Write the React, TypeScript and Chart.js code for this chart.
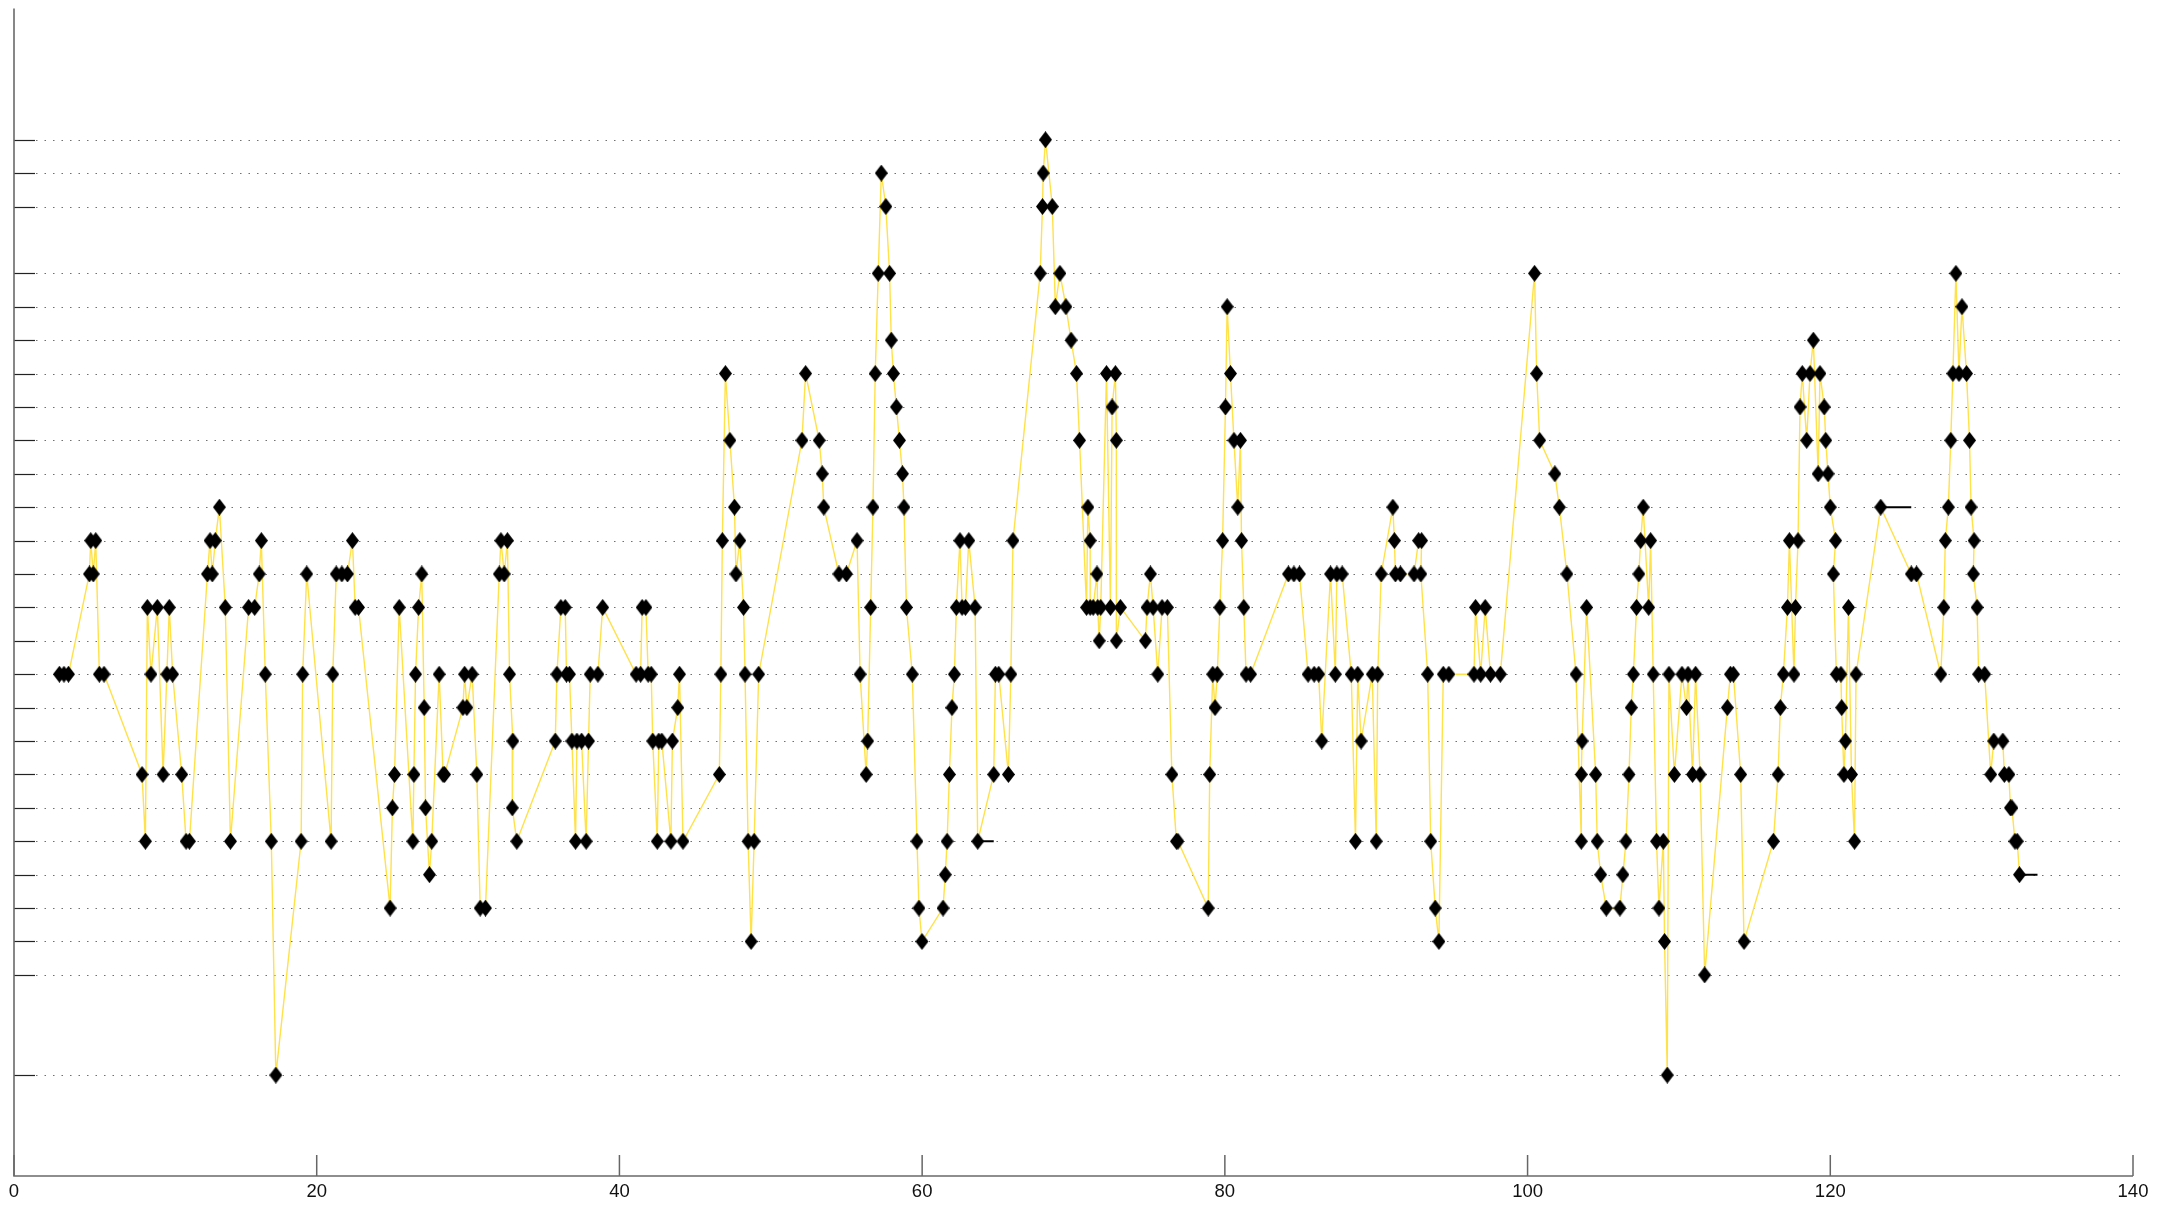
import React, { useEffect, useRef } from "react";
import { Chart, registerables } from "chart.js";

Chart.register(...registerables);

// note onsets (x) and pitch levels (y), in drawing order
const positions = [
  3.0, 3.3, 3.6, 4.98, 5.07, 5.24, 5.4, 5.64, 5.95, 8.46, 8.68, 8.81, 9.05, 9.47, 9.85, 10.1, 10.26, 10.48,
  11.08, 11.37, 11.59, 12.78, 12.95, 13.1, 13.3, 13.57, 13.96, 14.3, 15.5, 15.9, 16.2, 16.34, 16.6, 17.0,
  17.3, 18.97, 19.07, 19.34,
  20.95, 21.06, 21.29, 21.66, 22.03, 22.36, 22.54, 22.76, 24.85, 25.0, 25.14, 25.45, 26.35, 26.42, 26.53,
  26.73, 26.94, 27.1, 27.19, 27.45, 27.6, 28.09, 28.35, 28.45, 29.66, 29.77, 29.92, 30.27, 30.58, 30.8,
  31.15, 32.06, 32.17, 32.39, 32.6, 32.74, 32.96, 32.92, 33.22, 35.76, 35.87, 36.13, 36.42, 36.5, 36.7,
  36.86, 37.1, 37.19, 37.5, 37.8, 37.96, 38.07, 38.58, 38.89,
  41.1, 41.4, 41.5, 41.75, 41.9, 42.1, 42.2, 42.5, 42.6, 42.8, 43.4, 43.5, 43.85, 43.97, 44.2, 46.6, 46.7,
  46.8, 47.0, 47.3, 47.6, 47.7, 47.95, 48.2, 48.3, 48.5, 48.7, 48.9, 49.2, 52.06, 52.3, 53.2, 53.4, 53.5,
  54.5, 55.0, 55.7, 55.9,
  56.3, 56.4, 56.6, 56.75, 56.9, 57.1, 57.3, 57.6, 57.85, 57.96, 58.1, 58.3, 58.5, 58.7, 58.8, 58.96,
  59.35, 59.66, 59.79, 59.99, 61.38, 61.53, 61.65, 61.8, 61.97, 62.13, 62.26, 62.5, 62.64, 62.86, 63.08,
  63.5, 63.67, 64.73, 64.84, 65.06, 65.7, 65.86, 66.0, 67.8, 67.95, 68.0, 68.15, 68.6, 68.8, 69.1, 69.5,
  69.84, 70.2, 70.4, 70.86, 70.95, 71.1, 71.1, 71.3, 71.55, 71.6, 71.7, 71.8,
  72.18, 72.44, 72.55, 72.77, 72.83, 72.83, 73.1, 74.75, 74.86, 75.08, 75.26, 75.57, 75.85, 76.2, 76.5,
  76.8, 76.9, 78.9, 79.0, 79.2, 79.35, 79.5, 79.67, 79.85, 80.04, 80.15, 80.37, 80.6, 80.85, 81.03, 81.1,
  81.25, 81.4, 81.7, 84.2, 84.56, 84.93, 85.5, 85.9, 86.2, 86.4, 86.98, 87.3, 87.4, 87.75, 88.35, 88.63,
  88.78, 89.0, 89.74, 90.0, 90.1, 90.33, 91.1, 91.2, 91.27, 91.6, 92.5, 92.8, 93.0, 92.95, 93.4, 93.6,
  93.9, 94.14, 94.43, 94.8, 96.46, 96.56, 96.9, 97.2, 97.55, 98.2, 100.46, 100.6, 100.8, 101.8, 102.1,
  102.6, 103.2, 103.55, 103.55, 103.6, 103.9,
  104.5, 104.6, 104.83, 105.2, 106.1, 106.3, 106.5, 106.7, 106.85, 106.99, 107.2, 107.35, 107.47, 107.64,
  108.0, 108.13, 108.3, 108.52, 108.68, 108.97, 109.05, 109.23, 109.34, 109.7, 110.2, 110.5, 110.6, 110.9,
  111.1, 111.4, 111.7, 113.2, 113.4, 113.6, 114.08, 114.3, 116.24, 116.55, 116.7, 116.9, 117.17, 117.3,
  117.6, 117.7, 117.87, 118.0, 118.15, 118.44, 118.66, 118.88, 119.2, 119.32, 119.6, 119.7, 119.85, 120.0,
  120.35, 120.2, 120.4, 120.7, 120.75, 120.9, 121.0, 121.2, 121.4, 121.6, 121.7, 123.33, 125.35, 125.7,
  127.3, 127.5, 127.6, 127.8, 127.96, 128.1, 128.3, 128.5, 128.7, 129.0, 129.2, 129.3, 129.5, 129.45,
  129.7, 129.8, 130.2, 130.6, 130.8, 131.4, 131.5, 131.8, 131.9, 132.0, 132.2, 132.35, 132.5,
];

const levels = [
  12, 12, 12, 15, 16, 15, 16, 12, 12, 9, 7, 14, 12, 14, 9, 12, 14, 12,
  9, 7, 7, 15, 16, 15, 16, 17, 14, 7, 14, 14, 15, 16, 12, 7,
  0, 7, 12, 15,
  7, 12, 15, 15, 15, 16, 14, 14, 5, 8, 9, 14, 7, 9, 12,
  14, 15, 11, 8, 6, 7, 12, 9, 9, 11, 12, 11, 12, 9, 5,
  5, 15, 16, 15, 16, 12, 10, 8, 7, 10, 12, 14, 14, 12, 12,
  10, 7, 10, 10, 7, 10, 12, 12, 14,
  12, 12, 14, 14, 12, 12, 10, 7, 10, 10, 7, 10, 11, 12, 7, 9, 12,
  16, 21, 19, 17, 15, 16, 14, 12, 7, 4, 7, 12, 19, 21, 19, 18, 17,
  15, 15, 16, 12,
  9, 10, 14, 17, 21, 24, 27, 26, 24, 22, 21, 20, 19, 18, 17, 14,
  12, 7, 5, 4, 5, 6, 7, 9, 11, 12, 14, 16, 14, 14, 16,
  14, 7, 9, 12, 12, 9, 12, 16, 24, 26, 27, 28, 26, 23, 24, 23,
  22, 21, 19, 14, 17, 16, 14, 14, 15, 14, 13, 14,
  21, 14, 20, 21, 19, 13, 14, 13, 14, 15, 14, 12, 14, 14, 9,
  7, 7, 5, 9, 12, 11, 12, 14, 16, 20, 23, 21, 19, 17, 19, 16,
  14, 12, 12, 15, 15, 15, 12, 12, 12, 10, 15, 12, 15, 15, 12, 7,
  12, 10, 12, 7, 12, 15, 17, 16, 15, 15, 15, 16, 16, 15, 12, 7,
  5, 4, 12, 12, 12, 14, 12, 14, 12, 12, 24, 21, 19, 18, 17,
  15, 12, 7, 9, 10, 14,
  9, 7, 6, 5, 5, 6, 7, 9, 11, 12, 14, 15, 16, 17,
  14, 16, 12, 7, 5, 7, 4, 0, 12, 9, 12, 11, 12, 9,
  12, 9, 3, 11, 12, 12, 9, 4, 7, 9, 11, 12, 14, 16,
  12, 14, 16, 20, 21, 19, 21, 22, 18, 21, 20, 19, 18, 17,
  16, 15, 12, 12, 11, 9, 10, 14, 9, 7, 12, 17, 15, 15,
  12, 14, 16, 17, 19, 21, 24, 21, 23, 21, 19, 17, 16, 15,
  14, 12, 12, 9, 10, 10, 9, 9, 8, 8, 7, 7, 6,
];

// sustained notes drawn as short black bars
const holdStarts = [63.67, 123.33, 132.5];
const holdEnds = [64.73, 125.35, 133.69];
const holdLevels = [7, 17, 6];

// levels that carry a dotted guide line and a tick
const gridLevels = [0, 3, 4, 5, 6, 7, 8, 9, 10, 11, 12, 13, 14, 15, 16, 17, 18, 19, 20, 21, 22, 23, 24, 26, 27, 28];
const xTickValues = [0, 20, 40, 60, 80, 100, 120, 140];

function makeDiamond(w: number, h: number): HTMLCanvasElement {
  const c = document.createElement("canvas");
  c.width = w;
  c.height = h;
  const g = c.getContext("2d")!;
  g.fillStyle = "#000";
  g.beginPath();
  g.moveTo(w / 2, 0);
  g.lineTo(w, h / 2);
  g.lineTo(w / 2, h);
  g.lineTo(0, h / 2);
  g.closePath();
  g.fill();
  return c;
}

const axesPlugin = {
  id: "customAxes",
  beforeDatasetsDraw(chart: any) {
    const { ctx, chartArea, scales } = chart;
    const xs = scales.x;
    const ys = scales.y;
    const left = chartArea.left;
    const bottom = chartArea.bottom;
    ctx.save();
    // dotted guide lines
    ctx.lineWidth = 1.2;
    ctx.strokeStyle = "#707070";
    ctx.setLineDash([1.5, 7]);
    const gridEnd = xs.getPixelForValue(139.6);
    for (const l of gridLevels) {
      const y = Math.round(ys.getPixelForValue(l)) + 0.5;
      ctx.beginPath();
      ctx.moveTo(left + 22, y);
      ctx.lineTo(gridEnd, y);
      ctx.stroke();
    }
    ctx.setLineDash([]);
    // y ticks (inward)
    ctx.strokeStyle = "#222";
    ctx.lineWidth = 1.2;
    for (const l of gridLevels) {
      const y = Math.round(ys.getPixelForValue(l)) + 0.5;
      ctx.beginPath();
      ctx.moveTo(left, y);
      ctx.lineTo(left + 21, y);
      ctx.stroke();
    }
    // x ticks (inward)
    ctx.strokeStyle = "#666";
    ctx.lineWidth = 1.5;
    for (const v of xTickValues) {
      const x = xs.getPixelForValue(v);
      ctx.beginPath();
      ctx.moveTo(x, bottom);
      ctx.lineTo(x, bottom - 21);
      ctx.stroke();
    }
    // axis lines
    ctx.strokeStyle = "#6a6a6a";
    ctx.lineWidth = 1.6;
    ctx.beginPath();
    ctx.moveTo(left, chartArea.top);
    ctx.lineTo(left, bottom);
    ctx.lineTo(xs.getPixelForValue(140), bottom);
    ctx.stroke();
    ctx.restore();
  },
};

export default function App() {
  const canvasRef = useRef<HTMLCanvasElement | null>(null);

  useEffect(() => {
    const canvas = canvasRef.current;
    if (!canvas) return;
    const diamond = makeDiamond(13, 17);

    const mainData = positions.map((x, i) => ({ x, y: levels[i] }));
    const holdData: { x: number; y: number | null }[] = [];
    holdStarts.forEach((s, i) => {
      holdData.push({ x: s, y: holdLevels[i] });
      holdData.push({ x: holdEnds[i], y: holdLevels[i] });
      holdData.push({ x: holdEnds[i], y: null });
    });

    const chart = new Chart(canvas, {
      type: "line",
      data: {
        datasets: [
          {
            label: "notes",
            data: mainData,
            borderColor: "#ffe14a",
            borderWidth: 1.4,
            tension: 0,
            pointStyle: diamond as any,
            pointRadius: 7,
            pointHoverRadius: 7,
            fill: false,
          },
          {
            label: "holds",
            data: holdData as any,
            borderColor: "#000",
            borderWidth: 2,
            pointRadius: 0,
            spanGaps: false,
            fill: false,
          },
        ],
      },
      options: {
        responsive: false,
        devicePixelRatio: 1,
        animation: false,
        events: [],
        layout: { padding: { left: 14, top: 7, right: 42, bottom: 0 } },
        plugins: { legend: { display: false }, tooltip: { enabled: false } },
        scales: {
          x: {
            type: "linear",
            min: 0,
            max: 140,
            position: "bottom",
            grid: { display: false, drawTicks: false },
            border: { display: false },
            ticks: {
              stepSize: 20,
              padding: 5,
              maxRotation: 0,
              autoSkip: false,
              color: "#111",
              font: { family: '"Liberation Sans", Arial, sans-serif', size: 18.5 },
            },
            afterBuildTicks: (s: any) => {
              s.ticks = xTickValues.map((v) => ({ value: v }));
            },
            afterFit: (s: any) => {
              s.height = 31;
            },
          },
          y: {
            type: "linear",
            min: -3.02,
            max: 31.93,
            display: false,
          },
        },
      },
      plugins: [axesPlugin],
    });

    return () => chart.destroy();
  }, []);

  return (
    <div style={{ position: "fixed", left: 0, top: 0, width: 2175, height: 1207, background: "#fff" }}>
      <canvas ref={canvasRef} width={2175} height={1207} style={{ display: "block", width: 2175, height: 1207 }} />
    </div>
  );
}
